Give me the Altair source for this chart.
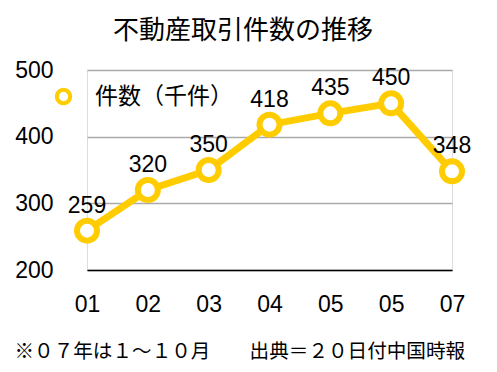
import altair as alt
import pandas as pd

years = ["01", "02", "03", "04", "05", "05", "07"]
values = [259, 320, 350, 418, 435, 450, 348]
series_name = "件数（千件）"
title_text = "不動産取引件数の推移"
note_text = "※０７年は１～１０月　　出典＝２０日付中国時報"

df = pd.DataFrame({"i": list(range(len(years))), "year": years, "v": values, "s": series_name})

YEL = "#FFCC00"
FONT = "Liberation Sans, Noto Sans CJK JP"
label_expr = "[" + ",".join("'%s'" % y for y in years) + "][datum.value]"

x = alt.X("i:O", scale=alt.Scale(type="point", padding=0),
          axis=alt.Axis(labelExpr=label_expr, labelAngle=0, ticks=False, domain=True,
                        domainColor="#000000", domainWidth=1.5, labelFontSize=23,
                        labelPadding=23, labelColor="#000", grid=False,
                        title=note_text, titleFontSize=19.6, titleFontWeight="normal",
                        titleAnchor="start", titleAlign="left", titleX=-73, titleY=72,
                        titleColor="#000", titleFont="Noto Sans CJK JP"))
y = alt.Y("v:Q", scale=alt.Scale(domain=[200, 500], nice=False, zero=False),
          axis=alt.Axis(values=[200, 300, 400, 500], ticks=False, domain=False,
                        gridColor="#AAAAAA", gridWidth=1.5, labelFontSize=23,
                        labelPadding=34, labelColor="#000", title=None))
color = alt.Color("s:N", scale=alt.Scale(domain=[series_name], range=[YEL]),
                  legend=alt.Legend(title=None, orient="none", legendX=-35, legendY=15,
                                    symbolType="circle", symbolFillColor="white",
                                    symbolStrokeColor=YEL, symbolStrokeWidth=4,
                                    symbolSize=180, labelFontSize=23, labelOffset=20,
                                    labelFont="Noto Sans CJK JP", labelColor="#000"))

base = alt.Chart(df)
line = base.mark_line(strokeWidth=7, color=YEL).encode(x=x, y=y, color=color)
pts = base.mark_point(filled=False, fill="white", fillOpacity=1, size=400, strokeWidth=6,
                      opacity=1, color=YEL).encode(x=x, y=y, color=color)
txt = base.mark_text(baseline="bottom", dy=-13, fontSize=23, color="#000").encode(
    x=x, y=y, text="v:Q")

chart = alt.layer(line, pts, txt).properties(
    width=365, height=200,
    autosize=alt.AutoSizeParams(type="none"),
    padding={"left": 79, "top": 62, "right": 37, "bottom": 94},
    title=alt.TitleParams(title_text, anchor="start", frame="group", dx=26, fontSize=26,
                          fontWeight="normal", font="Noto Sans CJK JP", color="#000",
                          offset=15),
).configure_view(stroke=None).configure(font=FONT)

chart.save("out.html", embed_options={"renderer": "svg", "actions": False})
